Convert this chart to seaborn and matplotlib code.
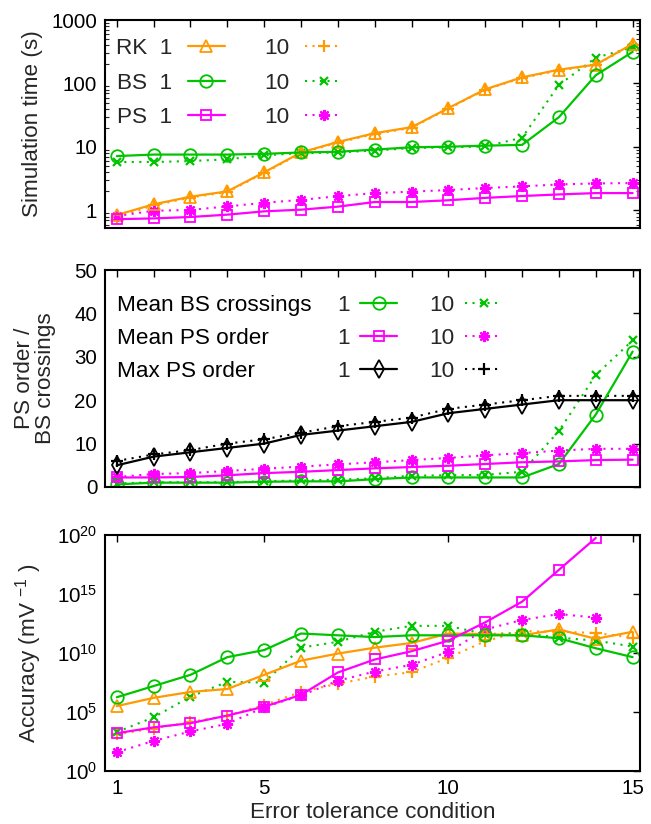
import numpy as np
import pandas as pd
import matplotlib
matplotlib.use("Agg")
import matplotlib.pyplot as plt
import seaborn as sns
from matplotlib.ticker import FixedLocator, FixedFormatter, NullFormatter, NullLocator, LogFormatterMathtext, LogLocator

sns.set_theme(style="white")
plt.rcParams['font.family'] = ['Liberation Sans', 'DejaVu Sans']
plt.rcParams['mathtext.fontset'] = 'custom'
plt.rcParams['mathtext.rm'] = 'Liberation Sans'
plt.rcParams['mathtext.it'] = 'Liberation Sans:italic'
plt.rcParams['mathtext.default'] = 'regular'

# ---------------- data ----------------
conditions = list(range(1, 16))
xtick_labels = [1, 5, 10, 15]

# Simulation time (s)
time_rk_1 = [0.85, 1.25, 1.65, 2.0, 4.0, 8.2, 12.0, 16.5, 20.5, 41, 81, 125, 165, 198, 420]
time_rk_10 = [0.8, 1.2, 1.6, 1.95, 3.9, 8.0, 11.7, 16, 20, 40, 80, 122, 160, 195, 410]
time_bs_1 = [7.2, 7.6, 7.6, 7.6, 7.8, 8.2, 8.4, 9.1, 9.9, 10.1, 10.5, 10.8, 29.5, 135, 315]
time_bs_10 = [5.8, 5.8, 6.0, 6.4, 7.4, 8.0, 8.2, 8.8, 9.6, 9.9, 10.2, 14, 95, 255, 370]
time_ps_1 = [0.73, 0.75, 0.79, 0.86, 0.97, 1.03, 1.15, 1.36, 1.36, 1.45, 1.58, 1.69, 1.79, 1.88, 1.88]
time_ps_10 = [0.82, 0.99, 1.02, 1.16, 1.32, 1.47, 1.68, 1.88, 1.98, 2.1, 2.26, 2.4, 2.57, 2.67, 2.7]

# PS order / BS crossings
bs_cross_1 = [0.6, 1.0, 1.0, 1.0, 1.2, 1.3, 1.3, 1.8, 2.2, 2.2, 2.2, 2.2, 5.3, 16.7, 31.2]
bs_cross_10 = [0.8, 1.1, 1.1, 1.1, 1.3, 1.5, 1.7, 2.0, 2.6, 2.7, 2.8, 3.5, 12.9, 25.8, 33.8]
ps_mean_1 = [2.2, 2.2, 2.3, 2.7, 3.2, 3.5, 3.9, 4.3, 4.6, 4.9, 5.3, 5.7, 5.9, 6.2, 6.3]
ps_mean_10 = [2.3, 3.0, 3.2, 3.7, 4.2, 4.7, 5.2, 5.7, 6.2, 6.7, 7.3, 7.8, 8.4, 8.8, 8.8]
ps_max_1 = [5, 7, 8, 9, 10, 12, 13, 14, 15, 17, 18, 19, 20, 20, 20]
ps_max_10 = [6, 7.5, 8.5, 10, 11, 12.5, 14, 15, 16, 18, 19, 20, 21, 21, 21]

# Accuracy (mV^-1), stored as log10 exponents
acc_rk_1_log10 = [5.5, 6.2, 6.7, 6.95, 8.15, 9.35, 9.95, 10.45, 10.85, 11.65, 11.6, 11.5, 12.0, 11.2, 11.8]
acc_rk_10_log10 = [3.1, 3.6, 4.15, 4.7, 5.6, 6.7, 7.4, 8.0, 8.37, 9.6, 11.0, 11.85, 11.8, 11.7, 11.3]
acc_bs_1_log10 = [6.25, 7.2, 8.15, 9.65, 10.25, 11.65, 11.5, 11.35, 11.5, 11.5, 11.5, 11.5, 11.25, 10.4, 9.65]
acc_bs_10_log10 = [3.3, 4.55, 6.3, 7.55, 7.5, 10.45, 10.95, 11.8, 12.3, 12.3, 11.6, 11.7, 11.3, 11.05, 10.55]
acc_ps_1_log10 = [3.2, 3.7, 4.05, 4.7, 5.45, 6.45, 8.35, 9.45, 10.15, 11.05, 12.6, 14.35, 17.05, 19.75, np.nan]
acc_ps_10_log10 = [1.6, 2.55, 3.35, 4.0, 5.4, 6.4, 7.65, 8.43, 9.0, 10.1, 12.0, 12.8, 13.3, 13.0, np.nan]

ORANGE = "#FF9A00"
GREEN = "#00C400"
MAGENTA = "#FF00FF"
BLACK = "#000000"

FS_TICK = 14.8
FS = 16.2
DOT = (0, (1, 2.6))
AST = (8, 2, 0)

fig = plt.figure(figsize=(6.51, 8.24), dpi=100)
L, W = 105 / 651, 535 / 651
ax1 = fig.add_axes([L, 1 - 228 / 824, W, 208 / 824])
ax2 = fig.add_axes([L, 1 - 487 / 824, W, 217 / 824])
ax3 = fig.add_axes([L, 1 - 771 / 824, W, 236 / 824])


def draw(ax, y, color, marker, solid, ms=8, mew=1.3):
    df = pd.DataFrame({"cond": conditions, "val": y}).dropna()
    filled = marker in ("+", "x", AST)
    sns.lineplot(data=df, x="cond", y="val", ax=ax, color=color,
                 linestyle="-" if solid else DOT,
                 linewidth=1.6 if solid else 1.5,
                 marker=marker, markersize=ms,
                 markerfacecolor=color if filled else "none",
                 markeredgecolor=color, markeredgewidth=mew)
    return ax.get_lines()[-1]


# ---------- Panel 1 ----------
h_rk10 = draw(ax1, time_rk_10, ORANGE, "+", False, ms=8, mew=1.6)
h_bs10 = draw(ax1, time_bs_10, GREEN, "x", False, ms=6, mew=1.6)
h_ps10 = draw(ax1, time_ps_10, MAGENTA, AST, False, ms=8, mew=1.6)
h_rk1 = draw(ax1, time_rk_1, ORANGE, "^", True, ms=9)
h_bs1 = draw(ax1, time_bs_1, GREEN, "o", True, ms=9)
h_ps1 = draw(ax1, time_ps_1, MAGENTA, "s", True, ms=6.5)
ax1.set_yscale("log")
ax1.set_ylim(0.53, 1000)
ax1.yaxis.set_major_locator(FixedLocator([1, 10, 100, 1000]))
ax1.yaxis.set_major_formatter(FixedFormatter(["1", "10", "100", "1000"]))
ax1.yaxis.set_minor_locator(LogLocator(base=10, subs=np.arange(2, 10)))
ax1.yaxis.set_minor_formatter(NullFormatter())
ax1.set_ylabel("Simulation time (s)", fontsize=FS)
ax1.yaxis.set_label_coords(-0.116, 0.5)
leg1 = ax1.legend([h_rk1, h_bs1, h_ps1, h_rk10, h_bs10, h_ps10],
                  ["RK  1", "BS  1", "PS  1", "10", "10", "10"],
                  ncol=2, markerfirst=False, frameon=False, loc="upper left",
                  bbox_to_anchor=(0.02, 0.912), fontsize=FS, handlelength=1.65,
                  handletextpad=0.7, columnspacing=1.75, labelspacing=0.6,
                  borderaxespad=0.0, borderpad=0.0)

# ---------- Panel 2 ----------
m_bs10 = draw(ax2, bs_cross_10, GREEN, "x", False, ms=6, mew=1.6)
m_ps10 = draw(ax2, ps_mean_10, MAGENTA, AST, False, ms=8, mew=1.6)
m_mx10 = draw(ax2, ps_max_10, BLACK, "+", False, ms=8, mew=1.6)
m_bs1 = draw(ax2, bs_cross_1, GREEN, "o", True, ms=9)
m_ps1 = draw(ax2, ps_mean_1, MAGENTA, "s", True, ms=6.5)
m_mx1 = draw(ax2, ps_max_1, BLACK, "d", True, ms=9)
ax2.set_ylim(0, 50)
ax2.yaxis.set_major_locator(FixedLocator([0, 10, 20, 30, 40, 50]))
ax2.set_ylabel("PS order /\nBS crossings", fontsize=FS, linespacing=1.0)
ax2.yaxis.set_label_coords(-0.092, 0.5)
leg2 = ax2.legend([m_bs1, m_ps1, m_mx1, m_bs10, m_ps10, m_mx10],
                  ["1", "1", "1", "10", "10", "10"],
                  ncol=2, markerfirst=False, frameon=False, loc="upper left",
                  bbox_to_anchor=(0.434, 0.887), fontsize=FS, handlelength=1.65,
                  handletextpad=0.45, columnspacing=1.45, labelspacing=0.55,
                  borderaxespad=0.0, borderpad=0.0)
panel2_names = ["Mean BS crossings", "Mean PS order", "Max PS order"]

# ---------- Panel 3 ----------
draw(ax3, [10 ** v for v in acc_rk_10_log10], ORANGE, "+", False, ms=8, mew=1.6)
draw(ax3, [10 ** v for v in acc_bs_10_log10], GREEN, "x", False, ms=6, mew=1.6)
draw(ax3, [10 ** v for v in acc_ps_10_log10], MAGENTA, AST, False, ms=8, mew=1.6)
draw(ax3, [10 ** v for v in acc_rk_1_log10], ORANGE, "^", True, ms=9)
draw(ax3, [10 ** v for v in acc_bs_1_log10], GREEN, "o", True, ms=9)
draw(ax3, [10 ** v for v in acc_ps_1_log10], MAGENTA, "s", True, ms=6.5)
ax3.set_yscale("log")
ax3.set_ylim(1, 1e20)
ax3.yaxis.set_major_locator(FixedLocator([1, 1e5, 1e10, 1e15, 1e20]))
ax3.yaxis.set_major_formatter(LogFormatterMathtext())
ax3.yaxis.set_minor_locator(NullLocator())
ax3.set_ylabel("Accuracy (mV $^{-1}$ )", fontsize=FS)
ax3.yaxis.set_label_coords(-0.114, 0.5)
ax3.set_xlabel("Error tolerance condition", fontsize=FS, labelpad=3)

for ax in (ax1, ax2, ax3):
    ax.set_xlim(0.68, 15.2)
    for sp in ax.spines.values():
        sp.set_color("black")
        sp.set_linewidth(1.5)
    ax.tick_params(axis="both", which="major", direction="in", length=5, width=1.0,
                   top=True, right=True, labelsize=FS_TICK, colors="black", pad=5.5)
    ax.tick_params(axis="y", which="minor", direction="in", length=3, width=0.8,
                   right=True, left=True)

for ax in (ax1, ax2):
    ax.xaxis.set_major_locator(FixedLocator(conditions))
    ax.set_xticklabels([])
    ax.set_xlabel("")
ax3.xaxis.set_major_locator(FixedLocator(xtick_labels))
ax3.set_xticklabels([str(v) for v in xtick_labels])
ax3.xaxis.set_minor_locator(NullLocator())

# names for panel 2 legend rows, aligned to the legend rows
fig.canvas.draw()
renderer = fig.canvas.get_renderer()
inv = ax2.transAxes.inverted()
for name, t in zip(panel2_names, leg2.get_texts()[:3]):
    bb = t.get_window_extent(renderer)
    y0 = inv.transform((0, bb.y0))[1]
    ax2.text(0.022, y0, name, transform=ax2.transAxes, fontsize=FS,
             va="bottom", ha="left", color="black")

fig.savefig("out.png", dpi=100)
